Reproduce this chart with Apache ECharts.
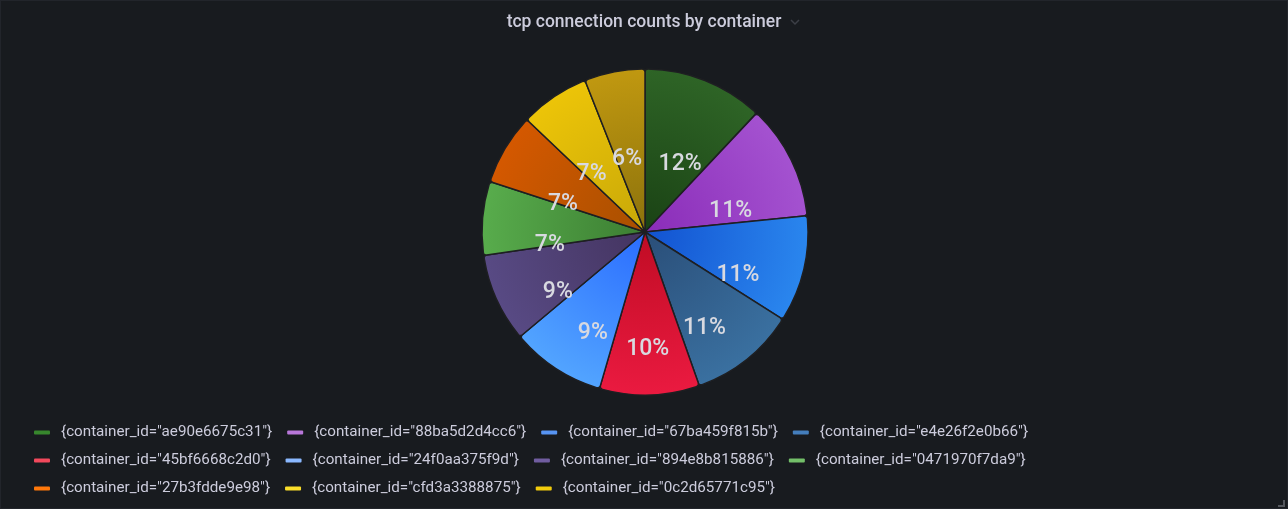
<!DOCTYPE html>
<html>
<head>
<meta charset="utf-8">
<script src="https://cdn.jsdelivr.net/npm/echarts@6/dist/echarts.min.js"></script>
<style>
html,body{margin:0;padding:0;background:#181b1f;}
#chart{width:1286px;height:507px;border:1px solid #22252b;}
</style>
</head>
<body>
<div id="chart"></div>
<script>
const titleText = 'tcp connection counts by container';
const categories = [
  '{container_id="ae90e6675c31"}',
  '{container_id="88ba5d2d4cc6"}',
  '{container_id="67ba459f815b"}',
  '{container_id="e4e26f2e0b66"}',
  '{container_id="45bf6668c2d0"}',
  '{container_id="24f0aa375f9d"}',
  '{container_id="894e8b815886"}',
  '{container_id="0471970f7da9"}',
  '{container_id="27b3fdde9e98"}',
  '{container_id="cfd3a3388875"}',
  '{container_id="0c2d65771c95"}'
];
const values = [12.0, 11.4, 10.6, 10.6, 9.9, 9.4, 8.8, 7.3, 7.1, 6.9, 6.0];
const legendColors = ['#37872D','#B877D9','#5794F2','#447EBC','#F2495C','#8AB8FF','#705DA0','#73BF69','#FF780A','#FADE2A','#F2CC0C'];
const innerColors = ['#1a4214','#8a2cb8','#1252d0','#2a4e78','#c00c24','#2a6cff','#443460','#3c7e32','#a85000','#c8a808','#8c720c'];
const outerColors = ['#2e6426','#a452d0','#2a86ee','#3a70a0','#ea1a40','#52a4ff','#584a84','#58ac4c','#d45800','#ecc408','#c09810'];
const legendRows = [[0,1,2,3],[4,5,6,7],[8,9,10]];

const CX = 644, CY = 231, R = 163;
const chart = echarts.init(document.getElementById('chart'));
const total = values.reduce((a,b)=>a+b,0);

const mainData = categories.map((n,i)=>({
  name:n, value:values[i],
  itemStyle:{color:new echarts.graphic.RadialGradient(CX, CY, R, [
    {offset:0, color:innerColors[i]}, {offset:1, color:outerColors[i]}], true)}
}));
const labelData = categories.map((n,i)=>({name:n, value:values[i]}));

const legends = legendRows.map((row,r)=>({
  left:33, top:424 + r*28, padding:0, itemWidth:16, itemHeight:4, itemGap:15,
  icon:'roundRect', selectedMode:false,
  textStyle:{color:'#ccccdc', fontSize:15.2, fontFamily:'Roboto', padding:[0,0,0,6]},
  itemStyle:{borderWidth:0},
  data:row.map(i=>({name:categories[i], itemStyle:{color:legendColors[i]}}))
}));

chart.setOption({
  backgroundColor:'#181b1f',
  animation:false,
  title:{text:titleText, left:'center', top:8, textStyle:{color:'#ccccdc', fontSize:17.5, fontWeight:500, fontFamily:'Roboto'}},
  graphic:[
    {type:'polyline', shape:{points:[[790,19],[794,23],[798,19]]}, style:{stroke:'#3c3f46', lineWidth:1.5, fill:null}},
    {type:'polyline', shape:{points:[[1283,499],[1283,505],[1277,505]]}, style:{stroke:'#55585e', lineWidth:2, fill:null}}
  ],
  legend:legends,
  series:[
    {
      type:'pie', center:[CX,CY], radius:[0,R], startAngle:90, clockwise:true,
      silent:true, label:{show:false}, labelLine:{show:false},
      itemStyle:{borderColor:'#1e1f22', borderWidth:1.5, borderRadius:3},
      data:mainData
    },
    {
      type:'pie', center:[CX,CY+21.5], radius:[0,185], startAngle:90, clockwise:true,
      silent:true, labelLine:{show:false},
      itemStyle:{color:'rgba(0,0,0,0)', borderWidth:0},
      label:{show:true, position:'inside', color:'#d8d9e0', fontSize:23, fontWeight:500, fontFamily:'Roboto',
        formatter:p=>Math.round(p.value/total*100)+'%'},
      data:labelData
    }
  ]
});
</script>
</body>
</html>
